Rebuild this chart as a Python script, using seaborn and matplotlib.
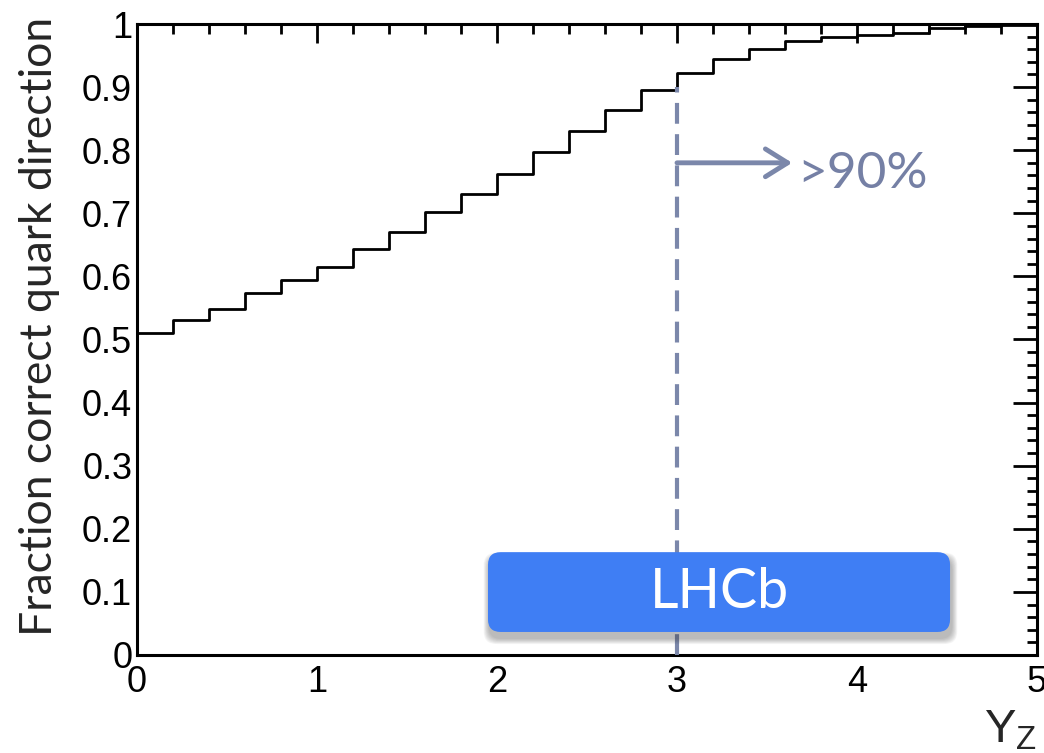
import numpy as np
import pandas as pd
import matplotlib
matplotlib.use("Agg")
import matplotlib.pyplot as plt
import seaborn as sns
from matplotlib.ticker import MultipleLocator, FuncFormatter
from matplotlib.patches import FancyBboxPatch

# ---- data ----
bin_edges = [0.0, 0.2, 0.4, 0.6, 0.8, 1.0, 1.2, 1.4, 1.6, 1.8, 2.0, 2.2, 2.4,
             2.6, 2.8, 3.0, 3.2, 3.4, 3.6, 3.8, 4.0, 4.2, 4.4, 4.6, 4.8, 5.0]
fraction = [0.511, 0.531, 0.548, 0.573, 0.595, 0.615, 0.644, 0.671, 0.702,
            0.731, 0.763, 0.797, 0.830, 0.864, 0.896, 0.923, 0.945, 0.961,
            0.973, 0.979, 0.982, 0.985, 0.994, 0.997, 0.999]
x_label = r"$\mathregular{Y_Z}$"
y_label = "Fraction correct quark direction"
cut_value = 3.0
cut_fraction = 0.9
annotation = ">90%"
badge = "LHCb"

edges = np.array(bin_edges)
centers = (edges[:-1] + edges[1:]) / 2
df = pd.DataFrame({"yz": centers, "frac": fraction})

sns.set_style("white")
plt.rcParams["font.family"] = ["Liberation Sans", "DejaVu Sans"]
plt.rcParams["mathtext.fontset"] = "custom"
plt.rcParams["mathtext.rm"] = "Liberation Sans"

fig = plt.figure(figsize=(10.44, 7.53), dpi=100)
ax = fig.add_axes([137 / 1044, 1 - 655 / 753, 900 / 1044, 631 / 753])

sns.histplot(data=df, x="yz", weights="frac", bins=list(bin_edges),
             element="step", fill=False, color="black", linewidth=2.0, ax=ax)

ax.set_xlim(0, 5)
ax.set_ylim(0, 1)
ax.xaxis.set_major_locator(MultipleLocator(1))
ax.xaxis.set_minor_locator(MultipleLocator(0.2))
ax.yaxis.set_major_locator(MultipleLocator(0.1))
ax.yaxis.set_minor_locator(MultipleLocator(0.02))
fmt = FuncFormatter(lambda v, p: "%g" % round(v, 3))
ax.xaxis.set_major_formatter(fmt)
ax.yaxis.set_major_formatter(fmt)
ax.tick_params(which="both", direction="in", top=True, right=True,
               width=2, color="black", labelsize=26, labelcolor="black")
ax.tick_params(axis="x", which="major", length=13.5, pad=7)
ax.tick_params(axis="y", which="major", length=17, pad=3.5)
ax.tick_params(which="minor", length=7)
for s in ax.spines.values():
    s.set_linewidth(2.2)
    s.set_color("black")
    s.set_visible(True)

ax.set_ylabel(y_label, fontsize=32, family=["Lato", "DejaVu Sans"])
ax.yaxis.set_label_coords(-0.085, 0.521)
ax.set_xlabel(x_label, fontsize=34, ha="right")
ax.xaxis.set_label_coords(1.0, -0.085)

accent = "#7b87aa"
ax.vlines(cut_value, 0, cut_fraction, colors=accent, linewidth=3,
          linestyles=[(0, (5, 2.5))], zorder=3)
ax.annotate("", xy=(3.64, 0.78), xytext=(cut_value, 0.78),
            arrowprops=dict(arrowstyle="->, head_length=0.8, head_width=0.5",
                            color=accent, lw=3.5, mutation_scale=20,
                            shrinkA=0, shrinkB=0))
ax.text(3.67, 0.762, annotation, fontsize=37, color="#7580a5",
        family=["Lato", "DejaVu Sans"], ha="left", va="center")

bx0, bx1, by0, by1 = 1.95, 4.517, 0.0365, 0.163
aspect = (1 / 631) / (1 / 180)
# soft drop shadow (layered translucent patches)
for k in range(8):
    pad = 0.004 * (8 - k)
    sh = FancyBboxPatch((bx0 + 0.008, by0 - 0.010), bx1 - bx0, by1 - by0,
                        boxstyle="round,pad=%g,rounding_size=0.07" % pad,
                        mutation_aspect=aspect, facecolor="#404040",
                        edgecolor="none", alpha=0.05, zorder=4)
    ax.add_patch(sh)
box = FancyBboxPatch((bx0, by0), bx1 - bx0, by1 - by0,
                     boxstyle="round,pad=0,rounding_size=0.07",
                     mutation_aspect=aspect, facecolor="#3f7ef4",
                     edgecolor="none", zorder=5)
ax.add_patch(box)
ax.text((bx0 + bx1) / 2, (by0 + by1) / 2, badge, fontsize=40, color="white",
        family=["Lato", "DejaVu Sans"], ha="center", va="center", zorder=6)

fig.savefig("out.png", dpi=100)
